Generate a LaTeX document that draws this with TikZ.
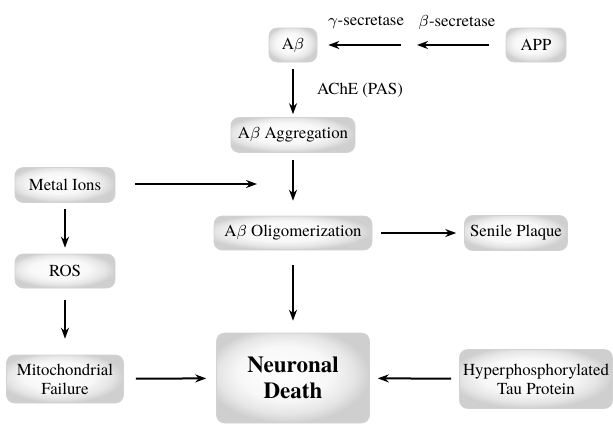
\documentclass[tikz,border=0pt]{standalone}
\usepackage{fontspec}
\setmainfont{TeX Gyre Termes}
\usetikzlibrary{arrows.meta}
\pgfdeclareradialshading{boxglow}{\pgfpoint{-4bp}{4bp}}{%
  color(0bp)=(white); color(15bp)=(gray!6); color(22bp)=(gray!20);
  color(27bp)=(gray!38); color(50bp)=(gray!38)}

\begin{document}
\begin{tikzpicture}[x=0.5pt, y=-0.5pt]
    % styles
    \tikzset{
      box/.style     = {rounded corners=4pt, shading=boxglow, draw=gray!35,
                        line width=0.3pt, inner sep=0pt, align=center,
                        font=\fontsize{8.4}{9.6}\selectfont},
      bigbox/.style  = {box, font=\fontsize{11.5}{13}\selectfont\bfseries},
      arrow/.style   = {-{Stealth[length=5.5pt, width=4pt]}, line width=1pt},
      label/.style   = {font=\fontsize{8.4}{9.6}\selectfont, inner sep=0pt}
    }
    \useasboundingbox (0,0) rectangle (613,424);

    % Boxes:
    \node[box, minimum width=24pt, minimum height=17pt]   (abeta)  at (293,45)  {A$\beta$};
    \node[box, minimum width=30pt, minimum height=17pt]   (app)    at (536,45)  {APP};
    \node[box, minimum width=62pt, minimum height=17.5pt] (agg)    at (293,135) {A$\beta$ Aggregation};
    \node[box, minimum width=50pt, minimum height=17.5pt] (metal)  at (65,185)  {Metal Ions};
    \node[box, minimum width=79pt, minimum height=17pt]   (oligo)  at (293,233) {A$\beta$ Oligomerization};
    \node[box, minimum width=51.5pt, minimum height=17.5pt] (plaque) at (516,233) {Senile Plaque};
    \node[box, minimum width=50pt, minimum height=17pt]   (ros)    at (65,271)  {ROS};
    \node[box, minimum width=58.5pt, minimum height=24pt] (mito)   at (65,379)  {Mitochondrial\\Failure};
    \node[bigbox, minimum width=76.5pt, minimum height=45pt] (death) at (293,378) {Neuronal\\Death};
    \node[box, minimum width=76.5pt, minimum height=29.5pt] (tau)  at (536,379) {Hyperphosphorylated\\Tau Protein};

    % Free ends:
    \coordinate (secr)  at (409,45);
    \coordinate (metalend) at (257,184);

    % Arrows:
    \draw[arrow, shorten <=8.5pt, shorten >=4pt]   (app) -- (secr);
    \draw[arrow, shorten <=4pt, shorten >=5.5pt]   (secr) -- (abeta);
    \draw[arrow, shorten <=3.5pt, shorten >=1.5pt] (abeta) -- (agg);
    \draw[arrow, shorten <=3.5pt, shorten >=7.5pt] (agg) -- (oligo);
    \draw[arrow, shorten <=10pt]                   (metal.east |- metalend) -- (metalend);
    \draw[arrow, shorten <=4.5pt, shorten >=4pt]   (oligo) -- (plaque);
    \draw[arrow, shorten <=7.5pt, shorten >=6pt]   (oligo) -- (death);
    \draw[arrow, shorten <=3pt, shorten >=3pt]     (metal) -- (ros);
    \draw[arrow, shorten <=6pt, shorten >=8pt]     (ros) -- (mito);
    \draw[arrow, shorten <=6pt, shorten >=5pt]     (mito) -- (death);
    \draw[arrow, shorten <=4pt, shorten >=4pt]     (tau) -- (death);

    % Labels:
    \node[label] (gsec) at (366,22) {$\gamma$-secretase};
    \node[label] (bsec) at (457,22) {$\beta$-secretase};
    \node[label] (ache) at (360,90) {AChE (PAS)};
\end{tikzpicture}
\end{document}
